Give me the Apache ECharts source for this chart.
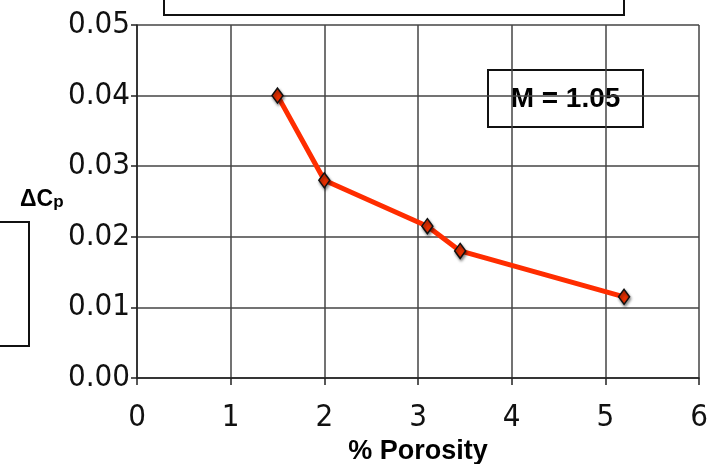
<!DOCTYPE html>
<html>
<head>
<meta charset="utf-8">
<script src="https://cdn.jsdelivr.net/npm/echarts@6/dist/echarts.min.js"></script>
<style>
html,body{margin:0;padding:0;background:#fff;}
#c{width:711px;height:464px;}
</style>
</head>
<body>
<div id="c"></div>
<script>
var porosity = [1.5, 2.0, 3.1, 3.45, 5.2];
var deltaCp = [0.040, 0.028, 0.0215, 0.018, 0.0115];
var xTicks = [0, 1, 2, 3, 4, 5, 6];
var yTicks = [0.00, 0.01, 0.02, 0.03, 0.04, 0.05];
var xAxisTitle = '% Porosity';
var machLabel = 'M = 1.05';

var chart = echarts.init(document.getElementById('c'), null, {renderer: 'canvas'});
var tickFont = 'Liberation Sans Narrow, DejaVu Sans Condensed, sans-serif';
var boldFont = 'Liberation Sans, Arial, sans-serif';

var option = {
  backgroundColor: '#ffffff',
  animation: false,
  grid: {left: 137, right: 12, top: 25, bottom: 86, show: false, containLabel: false, outerBoundsMode: 'none'},
  xAxis: {
    type: 'value',
    min: xTicks[0], max: xTicks[xTicks.length - 1], interval: 1,
    name: xAxisTitle, nameLocation: 'middle', nameGap: 59,
    nameTextStyle: {fontFamily: boldFont, fontWeight: 'bold', fontSize: 27, color: '#000'},
    axisLine: {show: true, onZero: false, lineStyle: {color: '#222', width: 1.5}},
    axisTick: {show: true, length: 7, lineStyle: {color: '#222', width: 1.5}},
    axisLabel: {fontFamily: tickFont, fontSize: 31, color: '#111', margin: 24,
      formatter: function (v) { return String(v); }},
    splitLine: {show: true, lineStyle: {color: '#444', width: 1.5}}
  },
  yAxis: {
    type: 'value',
    min: yTicks[0], max: yTicks[yTicks.length - 1], interval: 0.01,
    axisLine: {show: true, onZero: false, lineStyle: {color: '#222', width: 1.5}},
    axisTick: {show: true, length: 6, lineStyle: {color: '#222', width: 1.5}},
    axisLabel: {fontFamily: tickFont, fontSize: 31, color: '#111', margin: 7,
      formatter: function (v) { return v.toFixed(2); }},
    splitLine: {show: true, lineStyle: {color: '#444', width: 1.5}}
  },
  series: [{
    type: 'line',
    data: porosity.map(function (x, i) { return [x, deltaCp[i]]; }),
    lineStyle: {color: '#ff2d00', width: 5},
    symbol: 'diamond',
    symbolSize: [11, 15],
    itemStyle: {color: '#e83000', borderColor: '#111', borderWidth: 1.5,
      shadowColor: 'rgba(0,0,0,0.45)', shadowBlur: 3, shadowOffsetX: 1, shadowOffsetY: 2},
    z: 5
  }],
  graphic: [
    {type: 'rect', left: 163, top: -20, shape: {width: 460, height: 34},
      style: {fill: '#fff', stroke: '#111', lineWidth: 2}, z: 10},
    {type: 'rect', left: -20, top: 221, shape: {width: 48, height: 124},
      style: {fill: '#fff', stroke: '#111', lineWidth: 2}, z: 10},
    {type: 'group', left: 487, top: 69, z: 10, children: [
      {type: 'rect', shape: {x: 0, y: 0, width: 155, height: 57},
        style: {fill: '#fff', stroke: '#111', lineWidth: 2}},
      {type: 'text', x: 77.5, y: 29,
        style: {text: machLabel, fontFamily: boldFont, fontWeight: 'bold', fontSize: 28,
          fill: '#000', align: 'center', verticalAlign: 'middle'}}
    ]},
    {type: 'text', left: 20, top: 188, z: 10,
      style: {
        text: '{a|ΔC}{b|p}',
        rich: {
          a: {fontFamily: boldFont, fontWeight: 'bold', fontSize: 23, fill: '#000', verticalAlign: 'bottom'},
          b: {fontFamily: boldFont, fontWeight: 'bold', fontSize: 17, fill: '#000', padding: [10, 0, 0, 0], verticalAlign: 'bottom'}
        }
      }}
  ]
};
chart.setOption(option);
</script>
</body>
</html>
